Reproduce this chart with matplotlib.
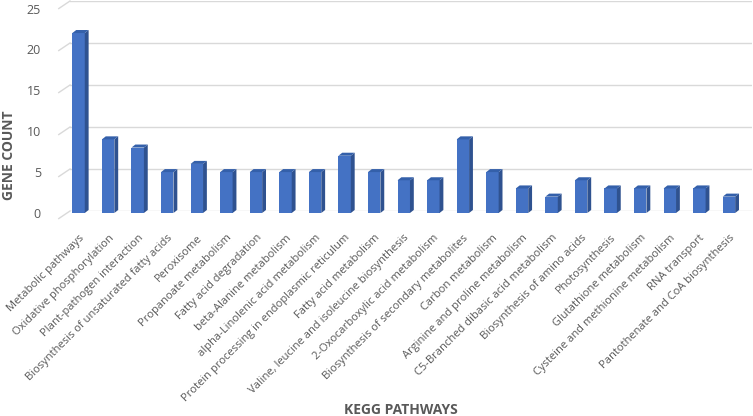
import numpy as np
import matplotlib
matplotlib.use('Agg')
import matplotlib.pyplot as plt

plt.rcParams['font.family'] = ['Open Sans', 'DejaVu Sans']

pathways = ['Metabolic pathways', 'Oxidative phosphorylation', 'Plant-pathogen interaction',
            'Biosynthesis of unsaturated fatty acids', 'Peroxisome', 'Propanoate metabolism',
            'Fatty acid degradation', 'beta-Alanine metabolism', 'alpha-Linolenic acid metabolism',
            'Protein processing in endoplasmic reticulum', 'Fatty acid metabolism',
            'Valine, leucine and isoleucine biosynthesis', '2-Oxocarboxylic acid metabolism',
            'Biosynthesis of secondary metabolites', 'Carbon metabolism',
            'Arginine and proline metabolism', 'C5-Branched dibasic acid metabolism',
            'Biosynthesis of amino acids', 'Photosynthesis', 'Glutathione metabolism',
            'Cysteine and methionine metabolism', 'RNA transport',
            'Pantothenate and CoA biosynthesis']
gene_count = [22, 9, 8, 5, 6, 5, 5, 5, 5, 7, 5, 4, 4, 9, 5, 3, 2, 4, 3, 3, 3, 3, 2]
yticks = [0, 5, 10, 15, 20, 25]

W, H = 753, 416
fig = plt.figure(figsize=(W / 100, H / 100), dpi=100)
xlim = (-0.29, 22.78)
left, width = 70 / W, 682 / W

# back wall with gridlines
axb = fig.add_axes([left, (H - 211) / H, width, 210 / H])
axb.set_xlim(*xlim)
axb.set_ylim(0, 25)
axb.axis('off')
for v in yticks:
    axb.plot([xlim[0], xlim[1]], [v, v], color='#D9D9D9', lw=1)
    axb.plot([xlim[0] - 0.38, xlim[0]], [v - 0.9, v], color='#D9D9D9', lw=1, clip_on=False)

# front: bars
ax = fig.add_axes([left, (H - 213) / H, width, 204.5 / H])
ax.patch.set_alpha(0)
ax.set_xlim(*xlim)
ax.set_ylim(0, 25)
x = np.arange(len(gene_count))
bw, dx, dy = 0.42, 0.13, 0.37
ax.bar(x, gene_count, width=bw, color='#4472C4', zorder=3)
for xi, v in zip(x, gene_count):
    r, l = xi + bw / 2, xi - bw / 2
    ax.fill([r, r + dx, r + dx, r], [0, dy, v + dy, v], color='#2F5290', lw=0, zorder=3)
    ax.fill([l, l + dx, r + dx, r], [v, v + dy, v + dy, v], color='#3460AA', lw=0, zorder=3)

for s in ax.spines.values():
    s.set_visible(False)
ax.set_yticks(yticks)
ax.tick_params(axis='y', length=0, pad=21, labelsize=9, labelcolor='#595959')
ax.set_xticks(x)
ax.set_xticklabels(pathways, rotation=45, ha='right', va='top', rotation_mode='anchor',
                   fontsize=8, color='#595959')
ax.tick_params(axis='x', length=0, pad=14)
fig.text(9 / W, 1 - 155 / H, 'GENE COUNT', rotation=90, ha='center', va='center',
         fontsize=10, fontweight='bold', color='#595959')
fig.text(401 / W, 1 - 410 / H, 'KEGG PATHWAYS', ha='center', va='center',
         fontsize=10, fontweight='bold', color='#595959')

fig.savefig('out.png', dpi=100)
